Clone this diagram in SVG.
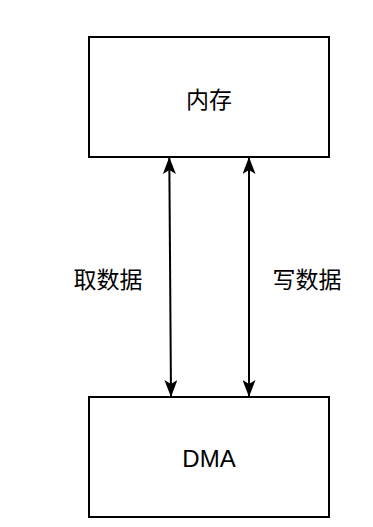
<svg xmlns="http://www.w3.org/2000/svg" width="373" height="527" viewBox="0 0 373 527">
<style>
.box{fill:#fff;stroke:#000;stroke-width:2}
.t{font-family:"Noto Sans CJK SC","Liberation Sans",sans-serif;font-size:23px;fill:#000;text-anchor:middle;dominant-baseline:central}
.c{stroke:#000;stroke-width:2;fill:none}
</style>
<defs>
<marker id="ah" viewBox="0 0 17 13" refX="16" refY="6.5" markerWidth="17" markerHeight="13" markerUnits="userSpaceOnUse" orient="auto-start-reverse">
<path d="M0,0 L17,6.5 L0,13 L4,6.5 Z" fill="#000"/>
</marker>
</defs>
<rect width="373" height="527" fill="#fff"/>
<g id="mem">
<rect class="box" x="89" y="37" width="240" height="120"/>
<text class="t" x="209" y="98">内存</text>
</g>
<g id="dma">
<rect class="box" x="89" y="397" width="240" height="120"/>
<text class="t" x="209" y="458" style="font-family:'Liberation Sans',sans-serif;font-size:24px">DMA</text>
</g>
<g id="connectors">
<line class="c" x1="169.3" y1="158" x2="171" y2="396" marker-start="url(#ah)" marker-end="url(#ah)"/>
<line class="c" x1="249" y1="158" x2="249" y2="396" marker-start="url(#ah)" marker-end="url(#ah)"/>
<text class="t" x="108" y="278">取数据</text>
<text class="t" x="307" y="278">写数据</text>
</g>
</svg>
